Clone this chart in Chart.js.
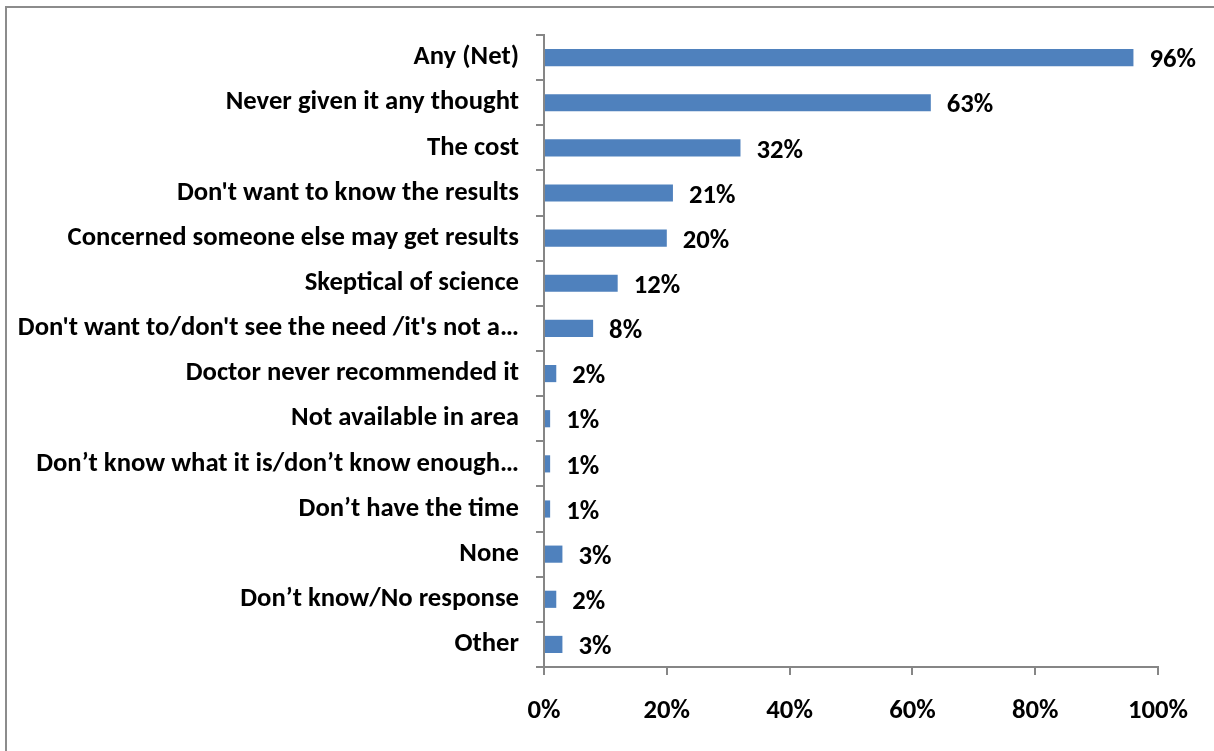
<!DOCTYPE html>
<html>
<head>
<meta charset="utf-8">
<script src="https://cdn.jsdelivr.net/npm/chart.js@4.4.1/dist/chart.umd.min.js"></script>
<style>
  html, body { margin: 0; padding: 0; background: #fff; }
  #frame {
    position: absolute; left: 5px; top: 6px; width: 1300px; height: 900px;
    border-left: 2px solid #8c8c8c; border-top: 2px solid #8c8c8c;
  }
  #wrap { position: absolute; left: 0; top: 0; width: 1214px; height: 751px; }
</style>
</head>
<body>
<div id="frame"></div>
<div id="wrap"><canvas id="reasonsChart"></canvas></div>
<script>
// Reasons for not getting tested (% of respondents)
const reasons = [
  'Any (Net)',
  'Never given it any thought',
  'The cost',
  "Don't want to know the results",
  'Concerned someone else may get results',
  'Skeptical of science',
  "Don't want to/don't see the need /it's not a\u2026",
  'Doctor never recommended it',
  'Not available in area',
  'Don\u2019t know what it is/don\u2019t know enough\u2026',
  'Don\u2019t have the time',
  'None',
  'Don\u2019t know/No response',
  'Other'
];
const percents = [96, 63, 32, 21, 20, 12, 8, 2, 1, 1, 1, 3, 2, 3];
const xTicks = [0, 20, 40, 60, 80, 100];

const labelFont = { family: 'Carlito, Lato, "Open Sans", sans-serif', size: 26.7, weight: 'bold' };

// value labels just past the end of each bar
const barValues = {
  id: 'barValues',
  afterDatasetsDraw(chart) {
    const { ctx } = chart;
    const meta = chart.getDatasetMeta(0);
    ctx.save();
    ctx.font = `bold ${labelFont.size}px ${labelFont.family}`;
    ctx.fillStyle = '#000';
    ctx.textAlign = 'left';
    ctx.textBaseline = 'middle';
    meta.data.forEach((bar, i) => {
      ctx.fillText(percents[i] + '%', bar.x + 16, bar.y + 3);
    });
    ctx.restore();
  }
};

new Chart(document.getElementById('reasonsChart'), {
  type: 'bar',
  data: {
    labels: reasons,
    datasets: [{
      data: percents,
      backgroundColor: '#4f81bd',
      categoryPercentage: 1,
      barPercentage: 0.38
    }]
  },
  options: {
    indexAxis: 'y',
    responsive: true,
    maintainAspectRatio: false,
    animation: false,
    layout: { padding: { top: 35, right: 56, left: 0, bottom: 0 } },
    plugins: { legend: { display: false }, tooltip: { enabled: false } },
    scales: {
      x: {
        min: 0, max: 100,
        afterBuildTicks: (scale) => { scale.ticks = xTicks.map(v => ({ value: v })); },
        afterFit: (scale) => { scale.height = 84; },
        grid: { drawOnChartArea: false, tickLength: 8, color: '#868686', lineWidth: 2 },
        border: { color: '#868686', width: 2 },
        ticks: { color: '#000', font: labelFont, padding: 20, callback: (v) => v + '%' }
      },
      y: {
        afterFit: (scale) => { scale.width = 544; },
        grid: { drawOnChartArea: false, tickLength: 8, color: '#868686', lineWidth: 2, offset: true },
        border: { color: '#868686', width: 2 },
        ticks: { color: '#000', font: labelFont, padding: 17, autoSkip: false }
      }
    }
  },
  plugins: [barValues]
});
</script>
</body>
</html>
